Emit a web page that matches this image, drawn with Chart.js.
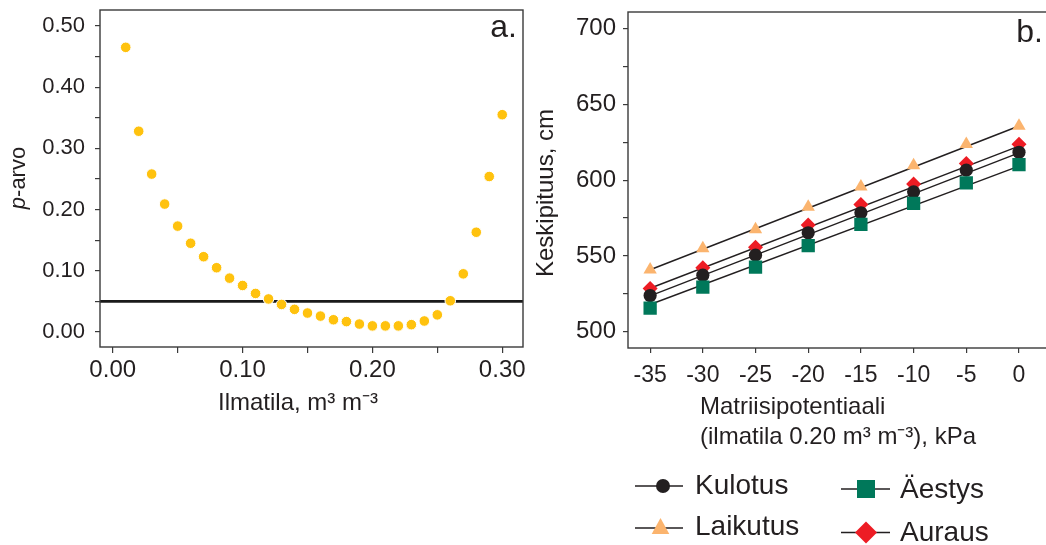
<!DOCTYPE html>
<html>
<head>
<meta charset="utf-8">
<script src="https://cdn.jsdelivr.net/npm/chart.js@4.4.1/dist/chart.umd.min.js"></script>
<style>
  html, body { margin: 0; padding: 0; background: #fff; overflow: hidden; }
  #chartA { position: absolute; left: 0; top: 0; }
  #chartB { position: absolute; left: 530px; top: 0; }
</style>
</head>
<body>
<canvas id="chartA" width="530" height="545"></canvas>
<canvas id="chartB" width="530" height="545"></canvas>
<script>
// panel a: p-values against air space
const airSpace = [0.01, 0.02, 0.03, 0.04, 0.05, 0.06, 0.07, 0.08, 0.09, 0.10,
  0.11, 0.12, 0.13, 0.14, 0.15, 0.16, 0.17, 0.18, 0.19, 0.20,
  0.21, 0.22, 0.23, 0.24, 0.25, 0.26, 0.27, 0.28, 0.29, 0.30];
const pValues = [0.465, 0.328, 0.258, 0.209, 0.173, 0.145, 0.123, 0.105, 0.088, 0.076,
  0.063, 0.054, 0.045, 0.037, 0.031, 0.026, 0.020, 0.017, 0.013, 0.010,
  0.010, 0.010, 0.012, 0.018, 0.028, 0.051, 0.095, 0.163, 0.254, 0.355];
const pLimit = 0.05;
const xTicksA = [0, 0.05, 0.10, 0.15, 0.20, 0.25, 0.30];
const xLabelsA = ['0.00', '', '0.10', '', '0.20', '', '0.30'];
const yTicksA = [0, 0.05, 0.10, 0.15, 0.20, 0.25, 0.30, 0.35, 0.40, 0.45, 0.50];
const yLabelsA = ['0.00', '', '0.10', '', '0.20', '', '0.30', '', '0.40', '', '0.50'];

// panel b: mean height against matric potential
const potentials = [-35, -30, -25, -20, -15, -10, -5, 0];
const kulotus = [523.9, 537.3, 550.5, 565.3, 578.5, 592.3, 606.6, 618.4];
const laikutus = [541.0, 555.0, 567.5, 582.3, 595.7, 609.7, 623.7, 635.8];
const aestys = [515.6, 529.4, 542.6, 556.8, 570.9, 584.7, 598.2, 610.3];
const auraus = [528.5, 542.3, 555.7, 570.4, 584.0, 597.4, 611.0, 623.7];
// fitted lines, value at -35 and at 0
const fitX = [-35, 0];
const fitKulotus = [523.7, 618.0];
const fitLaikutus = [540.9, 635.7];
const fitAestys = [518.0, 609.2];
const fitAuraus = [528.7, 622.4];
const xTicksB = [-35, -30, -25, -20, -15, -10, -5, 0];
const yTicksB = [500, 525, 550, 575, 600, 625, 650, 675, 700];
const yLabelsB = ['500', '', '550', '', '600', '', '650', '', '700'];

const INK = '#231f20';
const FONT = '"Liberation Sans", Arial, sans-serif';

const pts = (xs, ys) => xs.map((x, i) => ({ x: x, y: ys[i] }));

function frame(chart) {
  const a = chart.chartArea;
  const ctx = chart.ctx;
  ctx.save();
  ctx.strokeStyle = '#3a3a3a';
  ctx.lineWidth = 1.4;
  ctx.strokeRect(a.left, a.top, a.right - a.left, a.bottom - a.top);
  ctx.restore();
}

function axisOpts(min, max, ticks, labels, size, tl, pad, fixed) {
  return {
    type: 'linear',
    min: min,
    max: max,
    afterBuildTicks: (s) => { s.ticks = ticks.map((v) => ({ value: v })); },
    // fixed box size, no extra room for the end labels
    afterFit: (s) => {
      if (s.isHorizontal()) s.height = fixed; else s.width = fixed;
      s.paddingTop = 0; s.paddingBottom = 0; s.paddingLeft = 0; s.paddingRight = 0;
    },
    ticks: {
      autoSkip: false,
      maxRotation: 0,
      padding: pad,
      color: INK,
      font: { family: FONT, size: size },
      callback: (v, i) => labels ? labels[i] : String(v),
    },
    grid: { drawOnChartArea: false, tickLength: tl, color: '#3a3a3a', lineWidth: 1.2 },
    border: { display: false },
  };
}

const decorA = {
  id: 'decorA',
  afterDraw(chart) {
    frame(chart);
    const ctx = chart.ctx;
    ctx.save();
    ctx.fillStyle = INK;
    ctx.textBaseline = 'alphabetic';
    ctx.font = '32px ' + FONT;
    ctx.textAlign = 'right';
    ctx.fillText('a.', 517, 37);
    ctx.textAlign = 'left';
    ctx.font = '24px ' + FONT;
    ctx.fillText('Ilmatila, m³ m⁻³', 218, 410);
    // y title with italic p
    ctx.translate(25, 178);
    ctx.rotate(-Math.PI / 2);
    ctx.font = 'italic 22px ' + FONT;
    const wp = ctx.measureText('p').width;
    ctx.font = '22px ' + FONT;
    const wr = ctx.measureText('-arvo').width;
    const x0 = -(wp + wr) / 2;
    ctx.font = 'italic 22px ' + FONT;
    ctx.fillText('p', x0, 0);
    ctx.font = '22px ' + FONT;
    ctx.fillText('-arvo', x0 + wp, 0);
    ctx.restore();
  }
};

new Chart(document.getElementById('chartA'), {
  type: 'scatter',
  data: {
    datasets: [
      {
        data: pts(airSpace, pValues),
        backgroundColor: '#ffc20e',
        borderColor: '#ffffff',
        borderWidth: 1,
        pointRadius: 5.3,
        order: 1,
      },
      {
        data: [{ x: -0.0098, y: pLimit }, { x: 0.316, y: pLimit }],
        showLine: true,
        borderColor: '#1a1a1a',
        borderWidth: 2.6,
        pointRadius: 0,
        order: 2,
      },
    ],
  },
  options: {
    responsive: false,
    animation: false,
    layout: { padding: { top: 10, right: 7, left: 0, bottom: 0 } },
    plugins: { legend: { display: false }, tooltip: { enabled: false } },
    scales: {
      x: axisOpts(-0.0098, 0.316, xTicksA, xLabelsA, 24, 6, 3, 198),
      y: axisOpts(-0.0245, 0.526, yTicksA, yLabelsA, 22, 5, 10, 100),
    },
  },
  plugins: [decorA],
});

// offset of canvas b on the page
const OFF = 530;

function legendItem(ctx, x1, x2, y, mx, text, tx, ty, drawMarker) {
  ctx.strokeStyle = INK;
  ctx.lineWidth = 1.4;
  ctx.beginPath();
  ctx.moveTo(x1 - OFF, y);
  ctx.lineTo(x2 - OFF, y);
  ctx.stroke();
  drawMarker(mx - OFF, y);
  ctx.fillStyle = INK;
  ctx.fillText(text, tx - OFF, ty);
}

const decorB = {
  id: 'decorB',
  afterDraw(chart) {
    frame(chart);
    const ctx = chart.ctx;
    ctx.save();
    ctx.fillStyle = INK;
    ctx.textBaseline = 'alphabetic';
    ctx.font = '32px ' + FONT;
    ctx.textAlign = 'right';
    ctx.fillText('b.', 1043 - OFF, 41.5);
    ctx.textAlign = 'left';
    ctx.font = '24px ' + FONT;
    ctx.fillText('Matriisipotentiaali', 700 - OFF, 414);
    ctx.fillText('(ilmatila 0.20 m³ m⁻³), kPa', 700 - OFF, 444);

    ctx.save();
    ctx.translate(553 - OFF, 193);
    ctx.rotate(-Math.PI / 2);
    ctx.textAlign = 'center';
    ctx.fillText('Keskipituus, cm', 0, 0);
    ctx.restore();

    ctx.font = '28px ' + FONT;
    legendItem(ctx, 635, 683, 486, 663, 'Kulotus', 695, 494, (x, y) => {
      ctx.fillStyle = INK;
      ctx.beginPath();
      ctx.arc(x, y, 7, 0, Math.PI * 2);
      ctx.fill();
    });
    legendItem(ctx, 635, 683, 528, 660.5, 'Laikutus', 695, 535, (x, y) => {
      ctx.fillStyle = '#fbb46e';
      ctx.beginPath();
      ctx.moveTo(x, y - 10);
      ctx.lineTo(x + 8.8, y + 6);
      ctx.lineTo(x - 8.8, y + 6);
      ctx.closePath();
      ctx.fill();
    });
    legendItem(ctx, 841, 890, 489, 866, 'Äestys', 900, 498, (x, y) => {
      ctx.fillStyle = '#00785a';
      ctx.fillRect(x - 9, y - 9, 18, 18);
    });
    legendItem(ctx, 841, 890, 532.5, 866, 'Auraus', 900, 541, (x, y) => {
      ctx.fillStyle = '#ed1c24';
      ctx.beginPath();
      ctx.moveTo(x, y - 11);
      ctx.lineTo(x + 11, y);
      ctx.lineTo(x, y + 11);
      ctx.lineTo(x - 11, y);
      ctx.closePath();
      ctx.fill();
    });
    ctx.restore();
  }
};

function fitSet(ys) {
  return {
    data: pts(fitX, ys),
    showLine: true,
    borderColor: INK,
    borderWidth: 1.4,
    pointRadius: 0,
    order: 10,
  };
}

new Chart(document.getElementById('chartB'), {
  type: 'scatter',
  data: {
    datasets: [
      fitSet(fitLaikutus),
      fitSet(fitAuraus),
      fitSet(fitKulotus),
      fitSet(fitAestys),
      {
        label: 'Laikutus',
        data: pts(potentials, laikutus),
        pointStyle: 'triangle',
        pointRadius: 7.7,
        backgroundColor: '#fbb46e',
        borderWidth: 0,
        order: 4,
      },
      {
        label: 'Auraus',
        data: pts(potentials, auraus),
        pointStyle: 'rectRot',
        pointRadius: 7.5,
        backgroundColor: '#ed1c24',
        borderWidth: 0,
        order: 3,
      },
      {
        label: 'Kulotus',
        data: pts(potentials, kulotus),
        pointStyle: 'circle',
        pointRadius: 6.6,
        backgroundColor: INK,
        borderWidth: 0,
        order: 2,
      },
      {
        label: 'Äestys',
        data: pts(potentials, aestys),
        pointStyle: 'rect',
        pointRadius: 9.4,
        backgroundColor: '#00785a',
        borderWidth: 0,
        order: 1,
      },
    ],
  },
  options: {
    responsive: false,
    animation: false,
    layout: { padding: { top: 12, right: 8, left: 0, bottom: 0 } },
    plugins: { legend: { display: false }, tooltip: { enabled: false } },
    scales: {
      x: axisOpts(-37.1, 3.0, xTicksB, null, 23, 5, 9, 197),
      y: axisOpts(489.3, 710.9, yTicksB, yLabelsB, 24, 5, 7, 98),
    },
  },
  plugins: [decorB],
});
</script>
</body>
</html>
